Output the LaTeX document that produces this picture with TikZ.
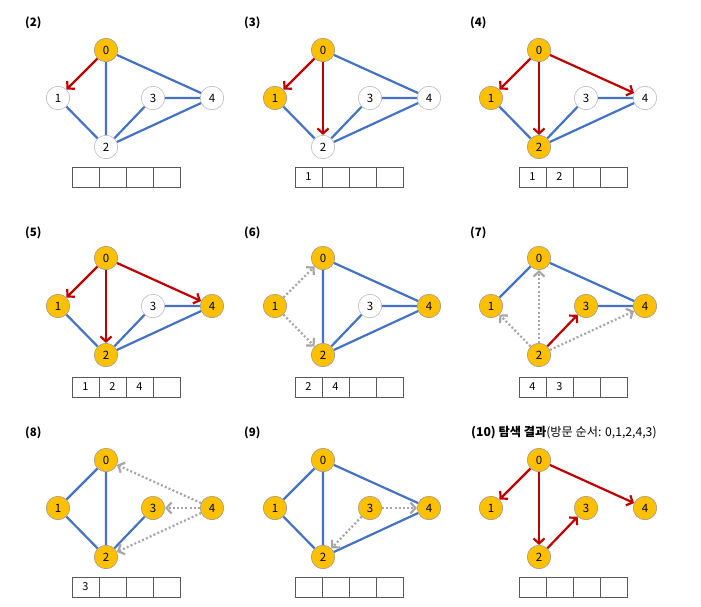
\documentclass[tikz,border=0pt]{standalone}
\usepackage{fontspec}
\setmainfont{Noto Sans CJK KR}
\usetikzlibrary{arrows.meta}
\definecolor{eblue}{HTML}{4472C4}
\definecolor{ered}{HTML}{C00000}
\definecolor{vorange}{HTML}{FFC000}
\definecolor{dgray}{HTML}{A6A6A6}
\definecolor{qgray}{HTML}{595959}
\tikzset{
 vnode/.style={circle, minimum size=23.5pt, inner sep=0pt, draw=gray!80, fill=vorange, line width=0.6pt, font=\fontsize{11.5}{13}\selectfont},
 unode/.style={vnode, fill=white, draw=gray!55},
 bedge/.style={draw=eblue, line width=2.2pt},
 redge/.style={draw=ered, line width=2.2pt, -{Straight Barb[length=5pt,width=11pt]}},
 dedge/.style={draw=dgray, line width=2.2pt, dash pattern=on 2pt off 2.2pt, -{Straight Barb[length=5pt,width=11pt]}},
 qcell/.style={draw=qgray, line width=0.7pt, minimum width=27pt, minimum height=20pt, inner sep=0pt, font=\fontsize{11}{13}\selectfont},
 plabel/.style={font=\fontsize{11.5}{13}\selectfont\bfseries, anchor=west, inner sep=0pt}
}
\newcommand\gnodes[8]{%
 \begin{scope}[shift={(#2,#3)}]
  \node[#4] (#1-0) at (0,0) {0};
  \node[#5] (#1-1) at (-48,48) {1};
  \node[#6] (#1-2) at (0,97) {2};
  \node[#7] (#1-3) at (47,48) {3};
  \node[#8] (#1-4) at (106,48) {4};
 \end{scope}}
\newcommand\qrow[7]{%
 \begin{scope}[shift={(#2,#3)}]
  \node[qcell] (#1-q1) at (13.5,10) {#4};
  \node[qcell] (#1-q2) at (40.5,10) {#5};
  \node[qcell] (#1-q3) at (67.5,10) {#6};
  \node[qcell] (#1-q4) at (94.5,10) {#7};
 \end{scope}}
\begin{document}
\begin{tikzpicture}[x=1pt,y=-1pt]
\useasboundingbox (0,0) rectangle (701,607);
% (2)
\node[plabel] (l2) at (25,23) {(2)};
\gnodes{a}{106}{50}{vnode}{unode}{unode}{unode}{unode}
\draw[bedge] (a-0)--(a-2) (a-0)--(a-4) (a-1)--(a-2) (a-2)--(a-3) (a-3)--(a-4) (a-2)--(a-4);
\draw[redge] (a-0)--(a-1);
\qrow{a}{72}{167}{}{}{}{}
% (3)
\node[plabel] (l3) at (244,23) {(3)};
\gnodes{b}{323}{50}{vnode}{vnode}{unode}{unode}{unode}
\draw[bedge] (b-0)--(b-4) (b-1)--(b-2) (b-2)--(b-3) (b-3)--(b-4) (b-2)--(b-4);
\draw[redge] (b-0)--(b-1);
\draw[redge] (b-0)--(b-2);
\qrow{b}{295}{167}{1}{}{}{}
% (4)
\node[plabel] (l4) at (470,23) {(4)};
\gnodes{c}{539}{50}{vnode}{vnode}{vnode}{unode}{unode}
\draw[bedge] (c-1)--(c-2) (c-2)--(c-3) (c-3)--(c-4) (c-2)--(c-4);
\draw[redge] (c-0)--(c-1);
\draw[redge] (c-0)--(c-2);
\draw[redge] (c-0)--(c-4);
\qrow{c}{519}{167}{1}{2}{}{}
% (5)
\node[plabel] (l5) at (25,233) {(5)};
\gnodes{d}{106}{258}{vnode}{vnode}{vnode}{unode}{vnode}
\draw[bedge] (d-1)--(d-2) (d-2)--(d-3) (d-3)--(d-4) (d-2)--(d-4);
\draw[redge] (d-0)--(d-1);
\draw[redge] (d-0)--(d-2);
\draw[redge] (d-0)--(d-4);
\qrow{d}{72}{377}{1}{2}{4}{}
% (6)
\node[plabel] (l6) at (244,233) {(6)};
\gnodes{e}{323}{258}{vnode}{vnode}{vnode}{unode}{vnode}
\draw[bedge] (e-0)--(e-2) (e-0)--(e-4) (e-2)--(e-3) (e-3)--(e-4) (e-2)--(e-4);
\draw[dedge] (e-1)--(e-0);
\draw[dedge] (e-1)--(e-2);
\qrow{e}{295}{377}{2}{4}{}{}
% (7)
\node[plabel] (l7) at (470,233) {(7)};
\gnodes{f}{539}{258}{vnode}{vnode}{vnode}{vnode}{vnode}
\draw[bedge] (f-1)--(f-0) (f-0)--(f-4) (f-3)--(f-4);
\draw[dedge] (f-2)--(f-0);
\draw[dedge] (f-2)--(f-1);
\draw[dedge] (f-2)--(f-4);
\draw[redge] (f-2)--(f-3);
\qrow{f}{519}{377}{4}{3}{}{}
% (8)
\node[plabel] (l8) at (25,433) {(8)};
\gnodes{g}{106}{460}{vnode}{vnode}{vnode}{vnode}{vnode}
\draw[bedge] (g-0)--(g-1) (g-0)--(g-2) (g-1)--(g-2) (g-2)--(g-3);
\draw[dedge] (g-4)--(g-0);
\draw[dedge] (g-4)--(g-3);
\draw[dedge] (g-4)--(g-2);
\qrow{g}{72}{577}{3}{}{}{}
% (9)
\node[plabel] (l9) at (244,433) {(9)};
\gnodes{h}{323}{460}{vnode}{vnode}{vnode}{vnode}{vnode}
\draw[bedge] (h-0)--(h-1) (h-0)--(h-2) (h-1)--(h-2) (h-0)--(h-4) (h-2)--(h-4);
\draw[dedge] (h-3)--(h-4);
\draw[dedge] (h-3)--(h-2);
\qrow{h}{295}{577}{}{}{}{}
% (10)
\node[plabel, font=\fontsize{12.2}{14}\selectfont\bfseries] (l10) at (471,433) {(10) 탐색 결과\mdseries(방문 순서: 0,1,2,4,3)};
\gnodes{k}{539}{460}{vnode}{vnode}{vnode}{vnode}{vnode}
\draw[redge] (k-0)--(k-1);
\draw[redge] (k-0)--(k-2);
\draw[redge] (k-0)--(k-4);
\draw[redge] (k-2)--(k-3);
\qrow{k}{519}{577}{}{}{}{}
\end{tikzpicture}
\end{document}
